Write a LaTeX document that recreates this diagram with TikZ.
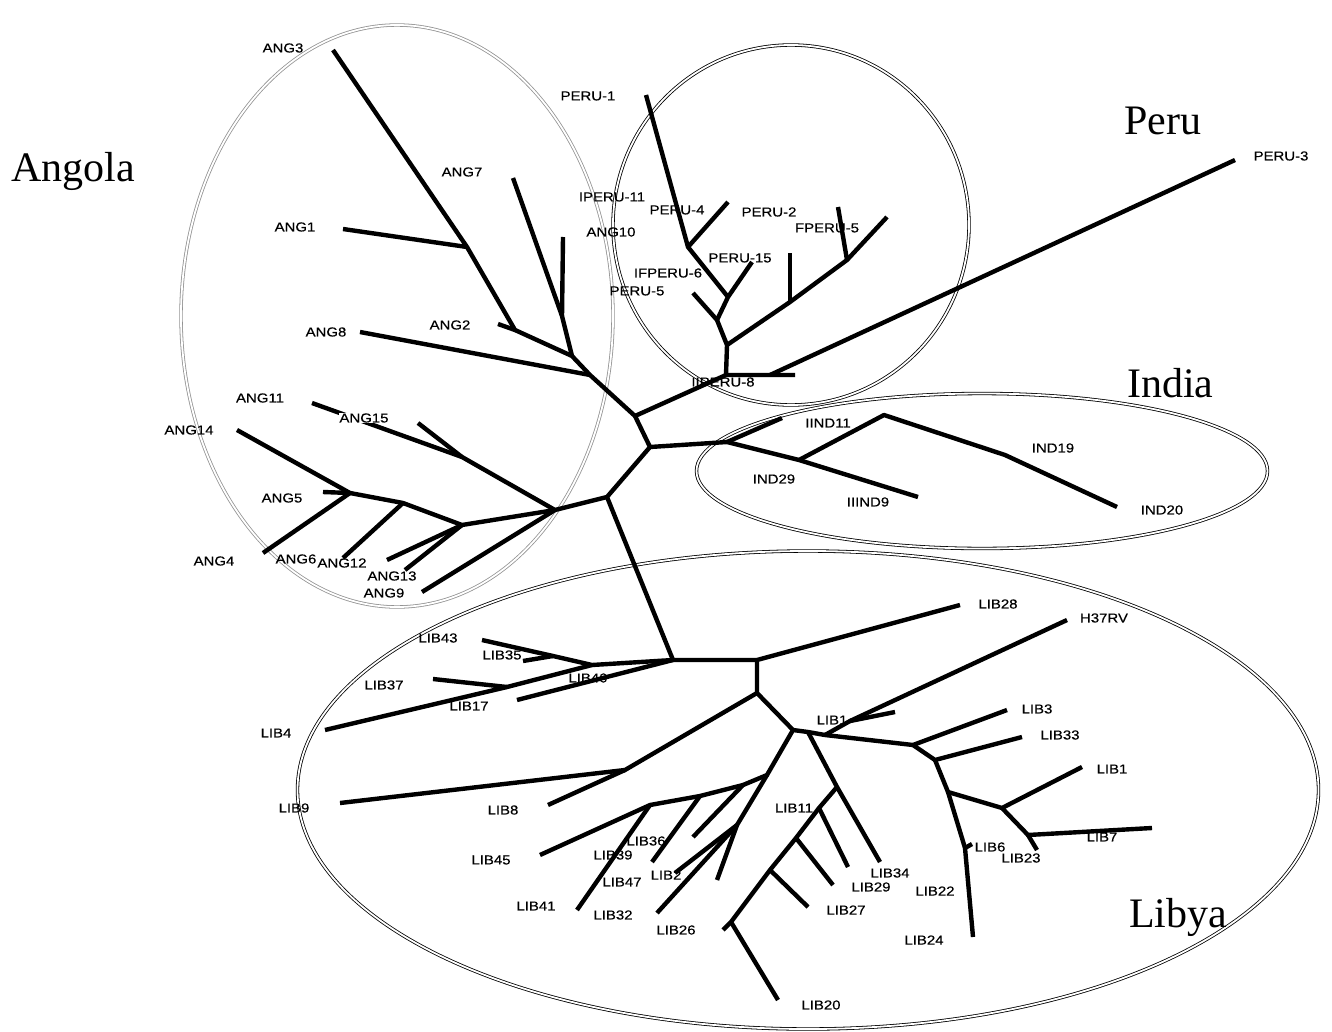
\documentclass[tikz,border=0pt]{standalone}
\usepackage{fontspec}
\newfontfamily\labfont[FakeStretch=1.15, FakeBold=0.4]{Liberation Sans}
\newfontfamily\regfont{Liberation Serif}
\usetikzlibrary{shapes.geometric}

\begin{document}
\begin{tikzpicture}[
    x=1pt, y=-1pt,
    branch/.style={line width=4.4pt, line join=round},
    clade/.style={ellipse, draw, double, double distance=1.8pt, line width=0.8pt, inner sep=0pt},
    tip/.style={font=\labfont\fontsize{13}{13}\selectfont, inner sep=0pt},
    country/.style={font=\regfont\fontsize{42}{42}\selectfont, inner sep=0pt, anchor=base west}
]
\useasboundingbox (0,0) rectangle (1332,1032);

% clades
\node[clade, draw=gray!85, minimum width=432pt, minimum height=582pt] (angola) at (397,316) {};
\node[clade, minimum width=356pt, minimum height=360pt] (peru) at (791,225) {};
\node[clade, minimum width=571pt, minimum height=155pt] (india) at (982,471) {};
\node[clade, minimum width=1021pt, minimum height=478pt] (libya) at (808,790) {};

\node[country] (angolaname) at (11,182) {Angola};
\node[country] (peruname) at (1124,135) {Peru};
\node[country] (indianame) at (1127,397) {India};
\node[country] (libyaname) at (1129,927) {Libya};

% centre
\coordinate (c1) at (650,447);
\coordinate (aP) at (635,416);
\coordinate (lc) at (607,497);
\coordinate (i0) at (727,442);
\coordinate (L0) at (673,660);

% Angola
\coordinate (a1) at (467,247);
\coordinate (a2) at (515,330);
\coordinate (a3) at (572,356);
\coordinate (a4) at (562,316);
\coordinate (a5) at (590,375);
\coordinate (ang3) at (333,50);
\coordinate (ang1) at (343,229);
\coordinate (ang2) at (498,324);
\coordinate (ang7) at (513,178);
\coordinate (ang10) at (563,237);
\coordinate (ang8) at (360,332);
\coordinate (b0) at (555,510);
\coordinate (b1) at (462,457);
\coordinate (b2) at (462,525);
\coordinate (b3) at (403,503);
\coordinate (b4) at (350,493);
\coordinate (ang11) at (312,403);
\coordinate (ang15) at (418,423);
\coordinate (ang14) at (237,430);
\coordinate (ang5) at (323,492);
\coordinate (ang4) at (263,553);
\coordinate (ang6) at (343,558);
\coordinate (ang12) at (387,560);
\coordinate (ang13) at (405,570);
\coordinate (ang9) at (422,592);

% Peru
\coordinate (p0) at (726,375);
\coordinate (p0b) at (770,375);
\coordinate (p2) at (727,345);
\coordinate (pA) at (717,320);
\coordinate (pC) at (728,297);
\coordinate (p4) at (688,247);
\coordinate (pD) at (790,302);
\coordinate (pE) at (847,260);
\coordinate (iiperu8) at (795,375);
\coordinate (peru3) at (1235,160);
\coordinate (peru5) at (693,293);
\coordinate (peru15) at (752,262);
\coordinate (peru1) at (646,95);
\coordinate (peru4) at (728,202);
\coordinate (peru2) at (790,253);
\coordinate (fperu5) at (838,207);
\coordinate (peru6) at (887,217);

% India
\coordinate (i2) at (799,460);
\coordinate (i3) at (884,415);
\coordinate (i4) at (1005,455);
\coordinate (ind11) at (782,418);
\coordinate (ind9) at (918,497);
\coordinate (ind20) at (1117,507);

% Libya
\coordinate (L1) at (757,660);
\coordinate (L2) at (757,693);
\coordinate (L3) at (793,730);
\coordinate (h0) at (808,732);
\coordinate (h1) at (825,735);
\coordinate (hh) at (850,721);
\coordinate (L5) at (913,745);
\coordinate (L6) at (935,760);
\coordinate (L7) at (948,792);
\coordinate (L8) at (1002,808);
\coordinate (L9) at (1028,835);
\coordinate (L10) at (965,848);
\coordinate (l1) at (592,665);
\coordinate (l1b) at (553,656);
\coordinate (l2) at (507,687);
\coordinate (l5) at (625,770);
\coordinate (m0) at (767,775);
\coordinate (m1) at (650,805);
\coordinate (m2) at (743,785);
\coordinate (m3) at (700,796);
\coordinate (m4) at (737,825);
\coordinate (n0) at (837,787);
\coordinate (n1) at (819,808);
\coordinate (n2) at (796,838);
\coordinate (n3) at (770,870);
\coordinate (n4) at (731,922);
\coordinate (lib28) at (960,605);
\coordinate (h37rv) at (1067,620);
\coordinate (lib1a) at (895,712);
\coordinate (lib3) at (1007,710);
\coordinate (lib33) at (1022,737);
\coordinate (lib1) at (1082,767);
\coordinate (lib7) at (1152,828);
\coordinate (lib23) at (1037,850);
\coordinate (lib6) at (972,844);
\coordinate (lib24) at (973,937);
\coordinate (lib43) at (482,640);
\coordinate (lib35) at (523,661);
\coordinate (lib37) at (433,679);
\coordinate (lib4) at (325,730);
\coordinate (lib40) at (517,700);
\coordinate (lib9) at (340,803);
\coordinate (lib8) at (548,805);
\coordinate (lib45) at (540,855);
\coordinate (lib41) at (577,910);
\coordinate (lib39) at (652,862);
\coordinate (lib36) at (693,837);
\coordinate (lib26) at (657,913);
\coordinate (lib2) at (675,873);
\coordinate (lib32) at (717,880);
\coordinate (lib34) at (880,862);
\coordinate (lib29) at (848,867);
\coordinate (lib27) at (833,885);
\coordinate (lib27b) at (808,907);
\coordinate (lib11) at (723,930);
\coordinate (lib20) at (778,1000);

% tip labels
\node[tip] (tANG3) at (283,48) {ANG3};
\node[tip] (tANG7) at (462,172) {ANG7};
\node[tip] (tANG1) at (295,227) {ANG1};
\node[tip] (tANG8) at (326,332) {ANG8};
\node[tip] (tANG2) at (450,325) {ANG2};
\node[tip] (tANG10) at (611,232) {ANG10};
\node[tip] (tANG11) at (260,398) {ANG11};
\node[tip] (tANG14) at (189,430) {ANG14};
\node[tip] (tANG5) at (282,498) {ANG5};
\node[tip] (tANG4) at (214,561) {ANG4};
\node[tip] (tANG6) at (296,559) {ANG6};
\node[tip] (tANG12) at (342,563) {ANG12};
\node[tip] (tANG13) at (392,576) {ANG13};
\node[tip] (tANG9) at (384,593) {ANG9};
\node[tip] (tPERU1) at (588,96) {PERU-1};
\node[tip] (tIPERU11) at (612,197) {IPERU-11};
\node[tip] (tPERU4) at (677,210) {PERU-4};
\node[tip] (tPERU2) at (769,212) {PERU-2};
\node[tip] (tFPERU5) at (827,228) {FPERU-5};
\node[tip] (tIFPERU6) at (668,273) {IFPERU-6};
\node[tip] (tPERU15) at (740,258) {PERU-15};
\node[tip] (tPERU5) at (637,291) {PERU-5};
\node[tip] (tIIPERU8) at (723,382) {IIPERU-8};
\node[tip] (tPERU3) at (1281,156) {PERU-3};
\node[tip] (tIIND11) at (828,423) {IIND11};
\node[tip] (tIND19) at (1053,448) {IND19};
\node[tip] (tIND29) at (774,479) {IND29};
\node[tip] (tIIIND9) at (868,502) {IIIND9};
\node[tip] (tIND20) at (1162,510) {IND20};
\node[tip] (tLIB28) at (998,604) {LIB28};
\node[tip] (tH37RV) at (1104,618) {H37RV};
\node[tip] (tLIB43) at (438,638) {LIB43};
\node[tip] (tLIB35) at (502,655) {LIB35};
\node[tip] (tLIB37) at (384,685) {LIB37};
\node[tip] (tLIB40) at (588,678) {LIB40};
\node[tip] (tLIB17) at (469,706) {LIB17};
\node[tip] (tLIB4) at (276,733) {LIB4};
\node[tip] (tLIB1a) at (832,720) {LIB1};
\node[tip] (tLIB3) at (1037,709) {LIB3};
\node[tip] (tLIB33) at (1060,735) {LIB33};
\node[tip] (tLIB1) at (1112,769) {LIB1};
\node[tip] (tLIB9) at (294,808) {LIB9};
\node[tip] (tLIB8) at (503,810) {LIB8};
\node[tip] (tLIB11) at (794,808) {LIB11};
\node[tip] (tLIB6) at (990,847) {LIB6};
\node[tip] (tLIB23) at (1021,858) {LIB23};
\node[tip] (tLIB7) at (1102,837) {LIB7};
\node[tip] (tLIB34) at (890,873) {LIB34};
\node[tip] (tLIB29) at (871,887) {LIB29};
\node[tip] (tLIB22) at (935,891) {LIB22};
\node[tip] (tLIB24) at (924,940) {LIB24};
\node[tip] (tLIB27) at (846,910) {LIB27};
\node[tip] (tLIB20) at (821,1005) {LIB20};
\node[tip] (tLIB26) at (676,930) {LIB26};
\node[tip] (tLIB32) at (613,915) {LIB32};
\node[tip] (tLIB41) at (536,906) {LIB41};
\node[tip] (tLIB47) at (622,882) {LIB47};
\node[tip] (tLIB39) at (613,855) {LIB39};
\node[tip] (tLIB36) at (646,841) {LIB36};
\node[tip] (tLIB2) at (666,875) {LIB2};
\node[tip] (tLIB45) at (491,860) {LIB45};

% tree
\draw[branch] (aP) -- (c1) -- (lc) -- (L0);
\draw[branch] (c1) -- (i0);

\draw[branch] (ang3) -- (a1) -- (a2) -- (a3) -- (a5) -- (aP);
\draw[branch] (a1) -- (ang1);
\draw[branch] (a2) -- (ang2);
\draw[branch] (a3) -- (a4) -- (ang7);
\draw[branch] (a4) -- (ang10);
\draw[branch] (a5) -- (ang8);
\draw[branch] (lc) -- (b0) -- (b1) -- (ang11);
\draw[branch] (b1) -- (ang15);
\draw[branch] (b0) -- (b2) -- (b3) -- (b4) -- (ang14);
\draw[branch] (b4) -- (ang5);
\draw[branch] (b4) -- (ang4);
\draw[branch] (b3) -- (ang6);
\draw[branch] (b2) -- (ang12);
\draw[branch] (b2) -- (ang13);
\draw[branch] (b0) -- (ang9);

\draw[branch] (aP) -- (p0) -- (p0b) -- (iiperu8);
\draw[branch] (p0b) -- (peru3);
\draw[branch] (p0) -- (p2) -- (pA) -- (peru5);
\draw[branch] (pA) -- (pC) -- (peru15);
\draw[branch] (pC) -- (p4) -- (peru1);
\draw[branch] (p4) -- (peru4);
\draw[branch] (p2) -- (pD) -- (pE) -- (peru6);
\draw[branch] (pD) -- (peru2);
\draw[branch] (pE) -- (fperu5);

\draw[branch] (i0) -- (ind11);
\draw[branch] (i0) -- (i2) -- (ind9);
\draw[branch] (i2) -- (i3) -- (i4) -- (ind20);

\draw[branch] (L0) -- (L1) -- (lib28);
\draw[branch] (L1) -- (L2) -- (L3) -- (h0) -- (h1) -- (L5) -- (lib3);
\draw[branch] (L0) -- (l1) -- (l1b) -- (lib43);
\draw[branch] (l1b) -- (lib35);
\draw[branch] (l1) -- (l2) -- (lib4);
\draw[branch] (l2) -- (lib37);
\draw[branch] (L0) -- (lib40);
\draw[branch] (L2) -- (l5) -- (lib9);
\draw[branch] (l5) -- (lib8);
\draw[branch] (L3) -- (m0) -- (m2) -- (m3) -- (m1) -- (lib45);
\draw[branch] (m1) -- (lib41);
\draw[branch] (m3) -- (lib39);
\draw[branch] (m2) -- (lib36);
\draw[branch] (m0) -- (m4) -- (lib26);
\draw[branch] (m4) -- (lib2);
\draw[branch] (m4) -- (lib32);
\draw[branch] (h1) -- (hh) -- (h37rv);
\draw[branch] (hh) -- (lib1a);
\draw[branch] (h0) -- (n0) -- (lib34);
\draw[branch] (n0) -- (n1) -- (n2) -- (n3) -- (n4) -- (lib11);
\draw[branch] (n1) -- (lib29);
\draw[branch] (n2) -- (lib27);
\draw[branch] (n3) -- (lib27b);
\draw[branch] (n4) -- (lib20);
\draw[branch] (L5) -- (L6) -- (lib33);
\draw[branch] (L6) -- (L7) -- (L8) -- (lib1);
\draw[branch] (L8) -- (L9) -- (lib7);
\draw[branch] (L9) -- (lib23);
\draw[branch] (L7) -- (L10) -- (lib24);
\draw[branch] (L10) -- (lib6);

\node[tip, fill=white] (tANG15) at (364,418) {ANG15};
\end{tikzpicture}
\end{document}
